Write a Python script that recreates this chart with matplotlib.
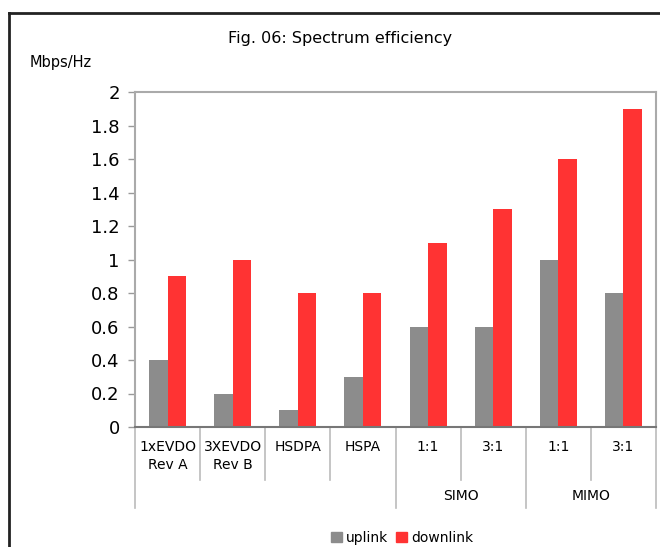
import matplotlib
matplotlib.use("Agg")
import matplotlib.pyplot as plt
import matplotlib.transforms as mtransforms
from matplotlib.lines import Line2D
from matplotlib.patches import Patch

categories = ["1xEVDO\nRev A", "3XEVDO\nRev B", "HSDPA", "HSPA", "1:1", "3:1", "1:1", "3:1"]
groups = [("", 0, 4), ("SIMO", 4, 6), ("MIMO", 6, 8)]
uplink = [0.4, 0.2, 0.1, 0.3, 0.6, 0.6, 1.0, 0.8]
downlink = [0.9, 1.0, 0.8, 0.8, 1.1, 1.3, 1.6, 1.9]
yticks = [0, 0.2, 0.4, 0.6, 0.8, 1, 1.2, 1.4, 1.6, 1.8, 2]
ytick_labels = ["0", "0.2", "0.4", "0.6", "0.8", "1", "1.2", "1.4", "1.6", "1.8", "2"]

plt.rcParams['font.family'] = ['DejaVu Sans']
W, H = 660, 547
fig = plt.figure(figsize=(W / 100, H / 100), dpi=100)
ax = fig.add_axes([135 / W, 1 - 427 / H, (656 - 135) / W, (427 - 92) / H])

gray = "#8c8c8c"
red = "#ff3333"
bw = 0.285
x = list(range(len(categories)))
ax.bar([i - bw / 2 for i in x], uplink, width=bw, color=gray, linewidth=0, zorder=2)
ax.bar([i + bw / 2 for i in x], downlink, width=bw, color=red, linewidth=0, zorder=2)

ax.set_xlim(-0.5, len(categories) - 0.5)
ax.set_ylim(0, 2)
ax.set_yticks(yticks)
ax.set_yticklabels(ytick_labels, fontsize=13)
ax.tick_params(axis='y', length=5, width=1, color="#999999", pad=6)
ax.set_xticks([])

for side in ["left", "top", "right"]:
    ax.spines[side].set_color("#aaaaaa")
    ax.spines[side].set_linewidth(1.5)
ax.spines["bottom"].set_color("#777777")
ax.spines["bottom"].set_linewidth(1.5)

trans = mtransforms.blended_transform_factory(ax.transData, ax.transAxes)
axh = 427 - 92
lvl1 = -(480 - 427) / axh
lvl2 = -(508 - 427) / axh
group_edges = {g[1] for g in groups} | {groups[-1][2]}
for k in range(len(categories) + 1):
    xb = k - 0.5
    ybot = lvl2 if k in group_edges else lvl1
    ax.add_line(Line2D([xb, xb], [0, ybot], transform=trans, color="#bbbbbb",
                       lw=1.2, clip_on=False))
for i, c in enumerate(categories):
    ax.text(i, -(440 - 427) / axh, c, transform=trans, ha='center', va='top',
            fontsize=10, linespacing=1.35)
for name, s, e in groups:
    if name:
        ax.text((s + e - 1) / 2, -(496 - 427) / axh, name, transform=trans,
                ha='center', va='center', fontsize=10)

fig.text(340 / W, 1 - 38 / H, "Fig. 06: Spectrum efficiency", ha='center', va='center', fontsize=11.5)
fig.text(30 / W, 1 - 63 / H, "Mbps/Hz", ha='left', va='center', fontsize=10.5)

handles = [Patch(color=gray, label="uplink"), Patch(color=red, label="downlink")]
fig.legend(handles=handles, loc='center', bbox_to_anchor=(402 / W, 1 - 538 / H), ncol=2,
           frameon=False, fontsize=10, handlelength=0.8, handleheight=0.8,
           handletextpad=0.25, columnspacing=0.6, borderpad=0, borderaxespad=0)

fx = 9 / W
fy = 1 - 13 / H
fig.add_artist(Line2D([fx, fx], [0, fy], transform=fig.transFigure, color="#222222", lw=2))
fig.add_artist(Line2D([fx, 1], [fy, fy], transform=fig.transFigure, color="#222222", lw=2))

fig.savefig("out.png", dpi=100)
